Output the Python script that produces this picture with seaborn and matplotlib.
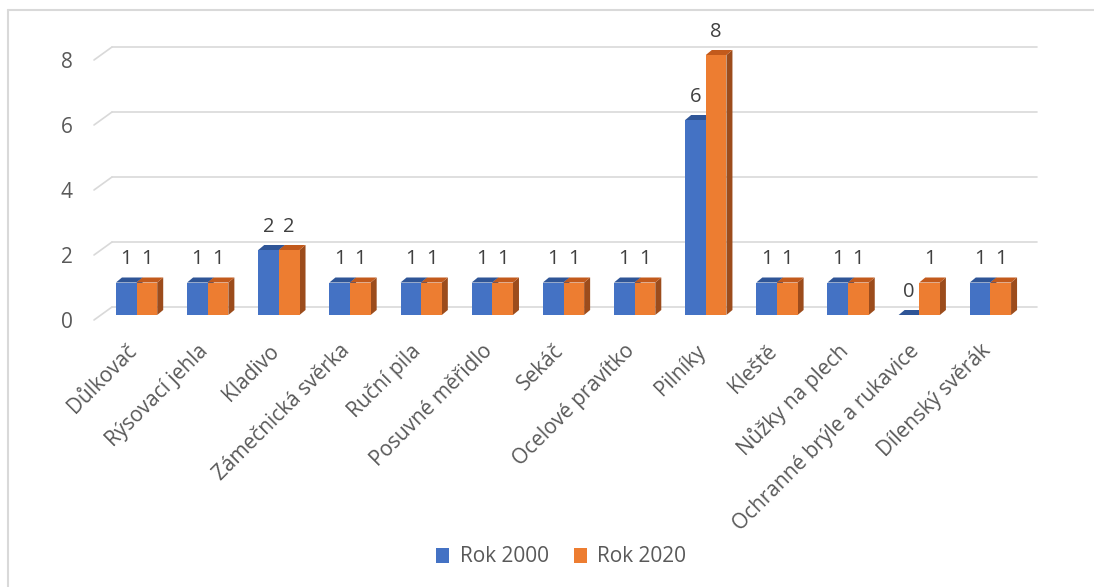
import matplotlib
matplotlib.use("Agg")
import matplotlib.pyplot as plt
import numpy as np
import pandas as pd
import seaborn as sns
from matplotlib.patches import Polygon, Patch
from matplotlib.lines import Line2D
from matplotlib.transforms import ScaledTranslation, IdentityTransform

categories = ["Důlkovač", "Rýsovací jehla", "Kladivo", "Zámečnická svěrka", "Ruční pila",
              "Posuvné měřidlo", "Sekáč", "Ocelové pravítko", "Pilníky", "Kleště",
              "Nůžky na plech", "Ochranné brýle a rukavice", "Dílenský svěrák"]
rok_2000 = [1, 1, 2, 1, 1, 1, 1, 1, 6, 1, 1, 0, 1]
rok_2020 = [1, 1, 2, 1, 1, 1, 1, 1, 8, 1, 1, 1, 1]
series_names = ["Rok 2000", "Rok 2020"]
y_ticks = [0, 2, 4, 6, 8]

front_colors = ["#4472C4", "#ED7D31"]
top_colors = ["#2F5597", "#C25A1C"]
side_colors = ["#2B4F8C", "#9C4C1C"]
grid_color = "#D9D9D9"
text_color = "#595959"

df = pd.DataFrame({
    "Nástroj": categories * 2,
    "Počet": rok_2000 + rok_2020,
    "Rok": [series_names[0]] * len(categories) + [series_names[1]] * len(categories),
})

sns.set_theme(style="white")
plt.rcParams["font.family"] = ["Open Sans", "DejaVu Sans"]

W, H = 1094, 587
fig = plt.figure(figsize=(W / 100, H / 100), dpi=100)
ax = fig.add_axes([94 / W, 1 - 320 / H, 925 / W, 260 / H])

sns.barplot(data=df, x="Nástroj", y="Počet", hue="Rok", order=categories,
            hue_order=series_names, palette=front_colors, width=0.58, gap=0,
            saturation=1, legend=False, ax=ax)

ax.set_xlim(-0.5, len(categories) - 0.5)
ax.set_ylim(0, 8)
ax.set_yticks(y_ticks)
ax.set_xticks(range(len(categories)))
ax.set_xticklabels([])
ax.set_xlabel("")
ax.set_ylabel("")
for s in ax.spines.values():
    s.set_visible(False)
ax.tick_params(axis="both", length=0)
ax.tick_params(axis="y", pad=15.5, labelsize=15, labelcolor=text_color)


def px(dx, dy):
    return ScaledTranslation(dx / 100, dy / 100, fig.dpi_scale_trans)


# back wall offset and depth of the floor
wall_dx, wall_dy = 18, 13
bar_dx, bar_dy = 7, 5
depth_dx, depth_dy = 6, 5

to_px = ax.transData
x_lo, x_hi = ax.get_xlim()
for yv in y_ticks:
    ax.add_line(Line2D([x_lo, x_hi], [yv, yv], color=grid_color, lw=1.2,
                       transform=ax.transData + px(wall_dx, wall_dy),
                       clip_on=False, zorder=1))
    fx, fy = to_px.transform((x_lo, yv))
    fig.add_artist(Line2D([fx, fx + wall_dx], [fy, fy + wall_dy], color=grid_color,
                          lw=1.2, transform=IdentityTransform(), zorder=1))

# extrude every bar into a small box
for k, container in enumerate(ax.containers):
    for rect, val in zip(container.patches, [rok_2000, rok_2020][k]):
        x0, w, h = rect.get_x(), rect.get_width(), rect.get_height()
        (l, b) = to_px.transform((x0, 0))
        (r, t) = to_px.transform((x0 + w, h))
        l += bar_dx; r += bar_dx; b += bar_dy; t += bar_dy
        z = 3 + k
        rect.set_transform(ax.transData + px(bar_dx, bar_dy))
        rect.set_clip_on(False)
        rect.set_zorder(z + 0.2)
        rect.set_linewidth(0)
        side = Polygon([(r, b), (r + depth_dx, b + depth_dy), (r + depth_dx, t + depth_dy), (r, t)],
                       closed=True, facecolor=side_colors[k], edgecolor="none",
                       transform=IdentityTransform(), clip_on=False, zorder=z)
        top = Polygon([(l, t), (r, t), (r + depth_dx, t + depth_dy), (l + depth_dx, t + depth_dy)],
                      closed=True, facecolor=top_colors[k], edgecolor="none",
                      transform=IdentityTransform(), clip_on=False, zorder=z + 0.1)
        ax.add_patch(side)
        ax.add_patch(top)
        ax.text(x0 + w / 2, h, f"{val:g}", ha="center", va="baseline", fontsize=14.5,
                color="#404040", transform=ax.transData + px(bar_dx, bar_dy + 18),
                clip_on=False, zorder=6)

# rotated category names
for i, cat in enumerate(categories):
    ax.text(i, 0, cat, rotation=45, rotation_mode="anchor", ha="right", va="center",
            fontsize=15, color=text_color, transform=ax.transData + px(4, -28),
            clip_on=False)

handles = [Patch(facecolor=c, edgecolor="none") for c in front_colors]
fig.legend(handles, series_names, loc="center", bbox_to_anchor=(561 / W, 1 - 557 / H),
           ncol=2, frameon=False, fontsize=15, handlelength=0.65, handleheight=0.7,
           handletextpad=0.5, columnspacing=1.2, labelcolor=text_color)

# chart area border
fig.add_artist(Line2D([8, W], [H - 10, H - 10], color=grid_color, lw=1.5,
                      transform=IdentityTransform()))
fig.add_artist(Line2D([8, 8], [0, H - 10], color=grid_color, lw=1.5,
                      transform=IdentityTransform()))

fig.savefig("out.png", dpi=100, facecolor="white")
